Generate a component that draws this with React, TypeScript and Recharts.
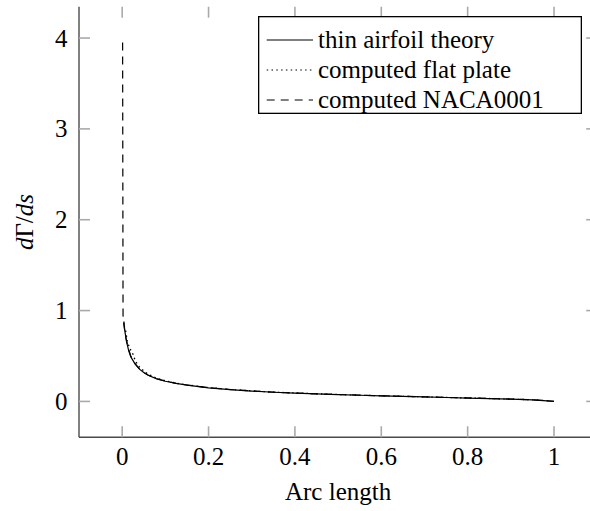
import React from 'react';
import { LineChart, Line, XAxis, YAxis, Legend } from 'recharts';

// thin airfoil theory (solid)
const thinS = [0.004, 0.006, 0.01, 0.015, 0.02, 0.03, 0.04, 0.05, 0.06, 0.08, 0.1, 0.125, 0.15, 0.2, 0.25, 0.3, 0.35, 0.4, 0.45, 0.5, 0.55, 0.6, 0.65, 0.7, 0.75, 0.8, 0.85, 0.9, 0.95, 1.0];
const thinV = [0.88, 0.78, 0.66, 0.56, 0.49, 0.41, 0.355, 0.318, 0.288, 0.248, 0.222, 0.198, 0.18, 0.15, 0.13, 0.114, 0.101, 0.091, 0.082, 0.075, 0.068, 0.061, 0.055, 0.049, 0.043, 0.037, 0.031, 0.025, 0.017, 0.0];

// computed flat plate (dotted)
const flatS = [0.008, 0.012, 0.017, 0.025, 0.031, 0.04, 0.05, 0.06, 0.08, 0.1, 0.125, 0.15, 0.2, 0.25, 0.3, 0.35, 0.4, 0.45, 0.5, 0.55, 0.6, 0.65, 0.7, 0.75, 0.8, 0.85, 0.9, 0.95, 0.99];
const flatV = [0.78, 0.66, 0.59, 0.52, 0.44, 0.38, 0.335, 0.3, 0.255, 0.228, 0.202, 0.182, 0.152, 0.131, 0.116, 0.102, 0.093, 0.084, 0.076, 0.069, 0.062, 0.056, 0.05, 0.044, 0.038, 0.032, 0.026, 0.018, 0.006];

// computed NACA0001 (dashed)
const nacaS = [0.001, 0.002, 0.004, 0.007, 0.01, 0.015, 0.02, 0.03, 0.04, 0.05, 0.06, 0.08, 0.1, 0.125, 0.15, 0.2, 0.25, 0.3, 0.35, 0.4, 0.45, 0.5, 0.55, 0.6, 0.65, 0.7, 0.75, 0.8, 0.85, 0.9, 0.95, 1.0];
const nacaV = [3.95, 0.95, 0.84, 0.74, 0.67, 0.57, 0.5, 0.415, 0.358, 0.32, 0.29, 0.25, 0.223, 0.199, 0.181, 0.151, 0.131, 0.115, 0.102, 0.092, 0.083, 0.076, 0.069, 0.062, 0.056, 0.05, 0.044, 0.038, 0.032, 0.026, 0.018, 0.002];

const xTicks = [0, 0.2, 0.4, 0.6, 0.8, 1];
const xTickLabels = ['0', '0.2', '0.4', '0.6', '0.8', '1'];
const yTicks = [0, 1, 2, 3, 4];
const yTickLabels = ['0', '1', '2', '3', '4'];
const seriesNames = ['thin airfoil theory', 'computed flat plate', 'computed NACA0001'];
const xTitle = 'Arc length';

const X_DOMAIN: [number, number] = [-0.1, 1.1];
const Y_DOMAIN: [number, number] = [-0.395, 4.345];
const TICK_PX = 11;
// inward tick mark length (~11px) in axis units
const TICK_LEN_Y = 0.121;
const TICK_LEN_X = 0.0255;

// chart geometry
const CHART_W = 620;
const CHART_H = 511;
const MARGIN = { top: 6.7, right: 22.8, left: 0, bottom: 0 };
const Y_AXIS_W = 79;
const X_AXIS_H = 73.7;
const PLOT_L = MARGIN.left + Y_AXIS_W;
const PLOT_T = MARGIN.top;
const PLOT_W = CHART_W - MARGIN.right - PLOT_L;
const PLOT_H = CHART_H - MARGIN.bottom - X_AXIS_H - PLOT_T;
const sx = (s: number) => PLOT_L + ((s - X_DOMAIN[0]) / (X_DOMAIN[1] - X_DOMAIN[0])) * PLOT_W;
const sy = (v: number) => PLOT_T + ((Y_DOMAIN[1] - v) / (Y_DOMAIN[1] - Y_DOMAIN[0])) * PLOT_H;

const thinData = thinS.map((s, i) => ({ s, v: thinV[i] }));
const flatData = flatS.map((s, i) => ({ s, v: flatV[i] }));
const nacaData = nacaS.map((s, i) => ({ s, v: nacaV[i] }));

// top tick marks drawn as tiny series
const topTickMarks = xTicks.map((t) => ({ key: `xt${t}`, data: [{ s: t, v: Y_DOMAIN[1] }, { s: t, v: Y_DOMAIN[1] - TICK_LEN_Y }] }));

const FONT = "'Liberation Serif', 'DejaVu Serif', serif";
const TICK_COLOR = '#aaaaaa';
const FRAME_COLOR = '#4a4a4a';
const textStyle: React.CSSProperties = { fontFamily: FONT, fontSize: 25 };

const BottomTick = (props: any) => {
  const { x, y, index } = props;
  return (
    <text x={Number(x)} y={Number(y) + 28} textAnchor="middle" style={textStyle} fill="#000">
      {xTickLabels[index]}
    </text>
  );
};
const LeftTick = (props: any) => {
  const { x, y, index } = props;
  return (
    <text x={Number(x) - 11.5} y={Number(y) + 8.5} textAnchor="end" style={textStyle} fill="#000">
      {yTickLabels[index]}
    </text>
  );
};

const YLabel = (props: any) => {
  const vb = props.viewBox || { x: 0, y: 0, width: 79, height: 430 };
  const cx = vb.x + 33;
  const cy = vb.y + vb.height / 2;
  return (
    <text x={cx} y={cy} transform={`rotate(-90, ${cx}, ${cy})`} textAnchor="middle" style={textStyle} fill="#000">
      <tspan fontStyle="italic">d</tspan>Γ/<tspan fontStyle="italic">ds</tspan>
    </text>
  );
};
const XLabel = (props: any) => {
  const vb = props.viewBox || { x: 79, y: 437, width: 518, height: 74 };
  return (
    <text x={vb.x + vb.width / 2} y={vb.y + 63} textAnchor="middle" style={textStyle} fill="#000">
      {xTitle}
    </text>
  );
};

const dashes = [undefined, '1.5 3.3', '8 6'];
const LegendBox = () => {
  const W = 324;
  const H = 98;
  return (
    <svg width={W} height={H} style={{ display: 'block' }}>
      <rect x={0.65} y={0.65} width={W - 1.3} height={H - 1.3} fill="#fff" stroke="#000" strokeWidth={1.3} />
      {seriesNames.map((name, i) => {
        const base = 32 + 30 * i;
        return (
          <g key={name}>
            <line x1={8.7} x2={55} y1={base - 8} y2={base - 8} stroke="#000" strokeWidth={1.2} strokeDasharray={dashes[i]} />
            <text x={60} y={base} style={textStyle} fill="#000">{name}</text>
          </g>
        );
      })}
    </svg>
  );
};

// bottom, left and right inward tick marks, placed with the same linear mapping as the axes
const TickOverlay = () => (
  <svg width={CHART_W} height={CHART_H} style={{ position: 'absolute', left: 0, top: 0, pointerEvents: 'none' }}>
    {xTicks.map((t) => (
      <line key={`b${t}`} x1={sx(t)} x2={sx(t)} y1={sy(Y_DOMAIN[0])} y2={sy(Y_DOMAIN[0]) - TICK_PX} stroke={TICK_COLOR} strokeWidth={1.6} />
    ))}
    {yTicks.map((t) => (
      <line key={`l${t}`} x1={sx(X_DOMAIN[0])} x2={sx(X_DOMAIN[0]) + TICK_PX} y1={sy(t)} y2={sy(t)} stroke={TICK_COLOR} strokeWidth={1.6} />
    ))}
    {yTicks.map((t) => (
      <line key={`r${t}`} x1={sx(X_DOMAIN[1])} x2={sx(X_DOMAIN[1]) - TICK_PX} y1={sy(t)} y2={sy(t)} stroke={TICK_COLOR} strokeWidth={1.6} />
    ))}
  </svg>
);

const axisLineStyle = { stroke: FRAME_COLOR, strokeWidth: 1.4 };

export default function App() {
  return (
    <div style={{ position: 'absolute', left: 0, top: 0, width: 590, height: 511, overflow: 'hidden', background: '#fff' }}>
      <LineChart width={CHART_W} height={CHART_H} margin={MARGIN}>
        <XAxis
          xAxisId="b"
          dataKey="s"
          type="number"
          domain={X_DOMAIN}
          ticks={xTicks}
          height={X_AXIS_H}
          tickSize={0}
          tickMargin={0}
          tickLine={false}
          axisLine={axisLineStyle}
          tick={<BottomTick />}
          interval={0}
          label={{ content: <XLabel /> } as any}
        />
        <XAxis
          xAxisId="t"
          orientation="top"
          type="number"
          domain={X_DOMAIN}
          ticks={xTicks}
          height={0}
          tickLine={false}
          tick={false}
          axisLine={axisLineStyle}
        />
        <YAxis
          yAxisId="l"
          type="number"
          domain={Y_DOMAIN}
          ticks={yTicks}
          width={Y_AXIS_W}
          tickSize={0}
          tickMargin={0}
          tickLine={false}
          axisLine={axisLineStyle}
          tick={<LeftTick />}
          interval={0}
          label={{ content: <YLabel /> } as any}
        />
        <YAxis
          yAxisId="r"
          orientation="right"
          type="number"
          domain={Y_DOMAIN}
          ticks={yTicks}
          width={0}
          tickLine={false}
          tick={false}
          axisLine={axisLineStyle}
        />
        {topTickMarks.map((m) => (
          <Line key={m.key} xAxisId="b" yAxisId="l" data={m.data} dataKey="v" type="linear" stroke={TICK_COLOR} strokeWidth={1.6}
            dot={false} activeDot={false} legendType="none" isAnimationActive={false} />
        ))}
        <Line xAxisId="b" yAxisId="l" data={thinData} dataKey="v" type="linear" stroke="#000" strokeWidth={1.2} dot={false} isAnimationActive={false} name={seriesNames[0]} />
        <Line xAxisId="b" yAxisId="l" data={flatData} dataKey="v" type="linear" stroke="#000" strokeWidth={1.3} strokeDasharray="1.5 3.3" dot={false} isAnimationActive={false} name={seriesNames[1]} />
        <Line xAxisId="b" yAxisId="l" data={nacaData} dataKey="v" type="linear" stroke="#000" strokeWidth={1.2} strokeDasharray="8 6" dot={false} isAnimationActive={false} name={seriesNames[2]} />
        <Legend
          layout="vertical"
          align="center"
          verticalAlign="middle"
          content={<LegendBox />}
          wrapperStyle={{ position: 'absolute', left: 258, top: 16, width: 324, height: 98 }}
        />
      </LineChart>
      <TickOverlay />
    </div>
  );
}
